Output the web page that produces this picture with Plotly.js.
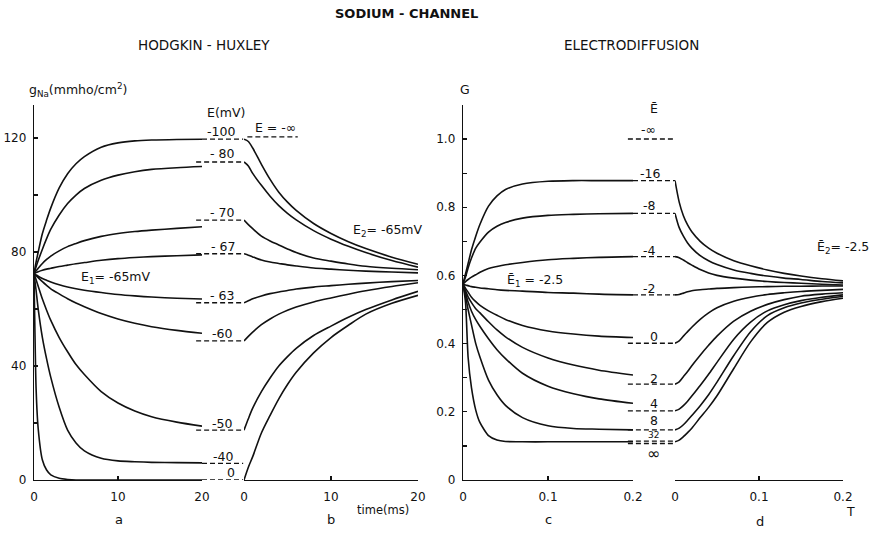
<!DOCTYPE html>
<html>
<head>
<meta charset="utf-8">
<script src="https://cdn.plot.ly/plotly-3.0.1.min.js"></script>
<style>html,body{margin:0;padding:0;background:#fff}#chart{width:874px;height:537px}</style>
</head>
<body>
<div id="chart"></div>
<script>
// ---------------- DATA ----------------
// Panel a: Hodgkin-Huxley, conductance build-up after a step from E1 = -65 mV (time in ms)
const hhTimeA = [0,0.25,0.5,1,1.5,2,3,4,5,6,8,10,12,14,17,20];
const hhVoltages = ["-100","- 80","- 70","- 67","- 63","-60","-50","-40","0"];
const hhA_m100 = [72.5,76.5,80,86.5,91.2,95.5,102.5,107.5,111,113.5,116.8,118.3,119,119.3,119.5,119.6];
const hhA_m80  = [72.5,74.8,77,81,84.7,88,93,97,100,102.3,105.2,107,108.2,109,109.6,110];
const hhA_m70  = [72.5,73.4,74.3,76,77.4,78.6,80.4,81.9,83,84,85.5,86.5,87.2,87.7,88.3,88.9];
const hhA_m67  = [72.5,72.8,73.1,73.6,74.0,74.3,74.9,75.4,75.9,76.3,77.1,77.7,78.1,78.4,78.7,79];
const hhA_m63  = [72.5,72.0,71.5,70.7,70.1,69.5,68.5,67.7,67.1,66.6,65.8,65.1,64.6,64.2,63.8,63.5];
const hhA_m60  = [72.5,71.7,71,69.6,68.3,67.1,65.3,63.6,62.1,60.8,58.4,56.5,55,53.8,52.5,51.5];
const hhA_m50  = [72.5,70.3,68,63.5,59.6,56,50,45,40.5,37,31,27,24.2,22.2,20.3,18.9];
const hhA_m40  = [72.5,66.5,60,50,42.5,36,25.5,17.5,13,10.2,7.6,6.7,6.4,6.2,6.1,6.0];
const hhA_0    = [72.5,32,18,7,3.5,1.8,0.6,0.2,0,0,0,0,0,0,0,0];
// Steady-state levels (dashed) for each E, and E = -infinity
const hhSteady = [119.6,111.6,91.2,79.4,62.2,48.8,17.5,5.8,0];
const hhSteadyInf = 120.4;

// Panel b: relaxation back to E2 = -65 mV
const hhTimeB = [0,0.5,1,2,3,4,5,6,8,10,12,14,17,20];
const hhB_m100 = [119.6,118.8,116.5,110.8,105.5,101,97.5,94.6,90,86.5,83.6,81.2,78.2,75.7];
const hhB_m80  = [111.6,110.2,107.6,103.4,99.6,96.3,93.6,91.3,87.5,84.5,82,79.8,77,74.7];
const hhB_m70  = [91.2,89.6,88.2,85.6,83.9,82.5,81.1,79.8,77.9,76.8,75.8,75,74.3,73.8];
const hhB_m67  = [79.4,78.9,78.3,77.2,76.5,76,75.5,75.1,74.4,74,73.6,73.3,73,72.7];
const hhB_m63  = [62.2,62.9,63.6,64.6,65.4,66,66.5,67,67.7,68.2,68.7,69.1,69.6,70];
const hhB_m60  = [48.8,50.4,51.9,54.5,56.5,58.2,59.6,60.7,62.5,63.9,65.2,66.4,67.9,69.2];
const hhB_m50  = [17.5,21.5,25.2,31,35.8,40,43.3,46.2,50.7,54,57.1,59.8,63.2,66.2];
const hhB_0    = [0,4.5,8.2,16.5,22.7,28.5,33.5,37.8,44.6,50,54.3,58.2,62,64.8];

// Panel c: electrodiffusion, build-up from E1 = -2.5 (reduced time T)
const edTimeC = [0,0.003,0.006,0.01,0.015,0.02,0.03,0.04,0.05,0.07,0.1,0.13,0.16,0.2];
const edVoltages = ["-16","-8","-4","-2","0","2","4","8","32"];
const edC_m16 = [0.575,0.605,0.635,0.675,0.715,0.75,0.803,0.833,0.852,0.868,0.876,0.878,0.878,0.878];
const edC_m8  = [0.575,0.595,0.622,0.651,0.68,0.698,0.727,0.744,0.755,0.768,0.776,0.779,0.781,0.782];
const edC_m4  = [0.575,0.582,0.588,0.595,0.602,0.609,0.62,0.626,0.631,0.638,0.646,0.65,0.653,0.655];
const edC_m2  = [0.575,0.572,0.57,0.567,0.565,0.563,0.561,0.558,0.556,0.554,0.55,0.548,0.545,0.543];
const edC_0   = [0.575,0.562,0.551,0.536,0.523,0.512,0.496,0.483,0.471,0.453,0.437,0.428,0.422,0.418];
const edC_2   = [0.575,0.555,0.537,0.52,0.502,0.49,0.464,0.44,0.42,0.389,0.358,0.337,0.322,0.308];
const edC_4   = [0.575,0.548,0.522,0.495,0.47,0.45,0.414,0.382,0.356,0.313,0.275,0.253,0.238,0.225];
const edC_8   = [0.575,0.538,0.5,0.455,0.4,0.36,0.293,0.25,0.219,0.183,0.159,0.151,0.149,0.147];
const edC_32  = [0.575,0.52,0.36,0.27,0.205,0.168,0.13,0.117,0.113,0.112,0.112,0.112,0.112,0.112];
// Steady-state levels (dashed)
const edSteadyLabels = ["-∞","-16","-8","-4","-2","0","2","4","8","32","∞"];
const edSteady = [1.0,0.878,0.782,0.655,0.543,0.401,0.281,0.203,0.147,0.114,0.107];

// Panel d: relaxation back to E2 = -2.5
const edTimeD = [0,0.005,0.01,0.015,0.02,0.03,0.04,0.05,0.07,0.09,0.11,0.13,0.15,0.175,0.2];
const edD_m16 = [0.878,0.815,0.775,0.748,0.728,0.7,0.68,0.665,0.643,0.628,0.616,0.606,0.598,0.59,0.584];
const edD_m8  = [0.782,0.74,0.715,0.695,0.68,0.658,0.643,0.632,0.616,0.606,0.598,0.592,0.588,0.582,0.578];
const edD_m4  = [0.655,0.652,0.645,0.637,0.63,0.617,0.607,0.6,0.592,0.586,0.582,0.579,0.577,0.574,0.572];
const edD_m2  = [0.543,0.544,0.548,0.552,0.555,0.558,0.56,0.562,0.564,0.566,0.567,0.568,0.568,0.569,0.569];
const edD_0   = [0.401,0.408,0.422,0.435,0.448,0.471,0.49,0.505,0.524,0.536,0.544,0.549,0.553,0.556,0.559];
const edD_2   = [0.281,0.288,0.303,0.318,0.335,0.366,0.395,0.422,0.466,0.495,0.515,0.529,0.539,0.545,0.549];
const edD_4   = [0.203,0.208,0.218,0.231,0.246,0.277,0.31,0.345,0.413,0.463,0.496,0.514,0.526,0.536,0.543];
const edD_8   = [0.147,0.152,0.162,0.175,0.189,0.218,0.25,0.287,0.365,0.435,0.482,0.505,0.519,0.53,0.538];
const edD_32  = [0.112,0.117,0.127,0.139,0.152,0.183,0.213,0.247,0.327,0.405,0.462,0.492,0.509,0.523,0.533];

// Tick labels
const hhTimeTicks = [0,10,20];
const hhGTicks = [0,20,40,60,80,100,120];
const hhGTickText = ["0"," ","40"," ","80"," ","120"];
const edTimeTicks = [0,0.1,0.2];
const edTimeTickText = ["0","0.1","0.2"];
const edGTicks = [0,0.1,0.2,0.3,0.4,0.5,0.6,0.7,0.8,0.9,1.0];
const edGTickText = ["0"," ","0.2"," ","0.4"," ","0.6"," ","0.8"," ","1.0"];

// ---------------- LAYOUT HELPERS ----------------
const W = 874, H = 537;
const PX = x => x / W;
const PY = y => 1 - y / H;
const FONT = "DejaVu Sans";
const INK = "#111";

const hhA = [hhA_m100,hhA_m80,hhA_m70,hhA_m67,hhA_m63,hhA_m60,hhA_m50,hhA_m40,hhA_0];
const hhB = [hhB_m100,hhB_m80,hhB_m70,hhB_m67,hhB_m63,hhB_m60,hhB_m50,hhB_0];
const edC = [edC_m16,edC_m8,edC_m4,edC_m2,edC_0,edC_2,edC_4,edC_8,edC_32];
const edD = [edD_m16,edD_m8,edD_m4,edD_m2,edD_0,edD_2,edD_4,edD_8,edD_32];

const traces = [];
function curve(xa, ya, x, y, smooth) {
  traces.push({type:'scatter', mode:'lines', x:x, y:y, xaxis:xa, yaxis:ya,
    line:{color:INK, width:1.6, shape:'spline', smoothing: smooth===undefined?0.8:smooth},
    hoverinfo:'skip', showlegend:false});
}
function dashed(xa, ya, x0, x1, level) {
  traces.push({type:'scatter', mode:'lines', x:[x0,x1], y:[level,level], xaxis:xa, yaxis:ya,
    line:{color:INK, width:1.3, dash:'5px,3px'}, hoverinfo:'skip', showlegend:false});
}

hhA.forEach((g,i) => curve('x','y',hhTimeA,g, i===8 ? 0.6 : 0.8));
hhB.forEach(g => curve('x2','y',hhTimeB,g));
edC.forEach((g,i) => curve('x3','y2',edTimeC,g, i===8 ? 0.6 : 0.8));
edD.forEach(g => curve('x4','y2',edTimeD,g));

// dashed steady-state markers across the gap (x5 spans a+b in panel-a units, x6 spans c+d in panel-c units)
const gapA = [19.3, 24.9];
hhSteady.forEach((lv,i) => dashed('x5','y', i===0||i>=7 ? 20 : gapA[0], gapA[1], lv));
dashed('x5','y', 25.4, 31.4, hhSteadyInf);
edSteady.forEach((lv,i) => dashed('x6','y2', (i>=1&&i<=4) ? 0.2 : 0.194, 0.2494, lv));

const axBase = {showgrid:false, zeroline:false, showline:true, linecolor:INK, linewidth:1.3,
  ticks:'inside', ticklen:4, tickwidth:1.2, tickcolor:INK,
  tickfont:{family:FONT, size:12, color:INK}, fixedrange:true};
const yDom = [1-480/H, 1-105/H];

const layout = {
  width:W, height:H, margin:{l:0,r:0,t:0,b:0},
  paper_bgcolor:'#fff', plot_bgcolor:'rgba(0,0,0,0)', showlegend:false,
  font:{family:FONT, color:INK},
  xaxis: Object.assign({}, axBase, {domain:[PX(34),PX(202)], range:[0,20], anchor:'y', tickvals:hhTimeTicks, ticklabelstandoff:5}),
  xaxis2:Object.assign({}, axBase, {domain:[PX(244),PX(418)], range:[0,20], anchor:'y', tickvals:hhTimeTicks, ticklabelstandoff:5}),
  xaxis3:Object.assign({}, axBase, {domain:[PX(463),PX(633)], range:[0,0.2], anchor:'y2', tickvals:edTimeTicks, ticktext:edTimeTickText, ticklabelstandoff:5}),
  xaxis4:Object.assign({}, axBase, {domain:[PX(675),PX(843)], range:[0,0.2], anchor:'y2', tickvals:edTimeTicks, ticktext:edTimeTickText, ticklabelstandoff:5}),
  xaxis5:{domain:[PX(34),PX(418)], range:[0,(418-34)/8.4], anchor:'y', visible:false, fixedrange:true},
  xaxis6:{domain:[PX(463),PX(843)], range:[0,(843-463)/850], anchor:'y2', visible:false, fixedrange:true},
  yaxis: Object.assign({}, axBase, {domain:yDom, range:[0,131.6], anchor:'x', tickvals:hhGTicks, ticktext:hhGTickText, ticklabelstandoff:4}),
  yaxis2:Object.assign({}, axBase, {domain:yDom, range:[0,1.0997], anchor:'x3', tickvals:edGTicks, ticktext:edGTickText, ticklabelstandoff:4}),
  annotations: []
};

function note(text, x, y, size, opts) {
  layout.annotations.push(Object.assign({text:text, x:PX(x), y:PY(y), xref:'paper', yref:'paper',
    showarrow:false, xanchor:'center', yanchor:'middle', borderpad:0, font:{family:FONT, size:size||12, color:INK}}, opts||{}));
}
// titles
note("SODIUM - CHANNEL", 406, 14, 13, {font:{family:FONT, size:13, color:INK, weight:'bold'}});
note("HODGKIN - HUXLEY", 204, 45, 13.5);
note("ELECTRODIFFUSION", 631, 45, 13.5);
// axis titles
note("g<sub>Na</sub>(mmho/cm<sup>2</sup>)", 28, 90, 12.5, {xanchor:'left'});
note("G", 465, 90, 12.5);
note("time(ms)", 383, 510, 11.5);
note("T", 850, 511, 12.5);
note("a", 119, 519, 13); note("b", 331, 519, 13); note("c", 548, 519, 13); note("d", 760, 521, 13);
// HH labels
note("E(mV)", 226, 112, 12.5);
const hhLabelPos = [[221,131],[222,153],[222,212],[223,246],[222,295],[222,333],[222,423],[223,456],[231,472]];
hhVoltages.forEach((t,i) => note(t, hhLabelPos[i][0], hhLabelPos[i][1], 12.5));
note("E = -∞", 275, 128, 12.5);
note("E<sub>1</sub>= -65mV", 116, 277, 12.5);
note("E<sub>2</sub>= -65mV", 388, 230, 12.5);
// ED labels
note("Ē", 654, 108, 12.5);
const edLabelPos = [[648,130],[650,173],[649,206],[649,250],[649,288],[654,336],[654,378],[654,403],[654,420],[653,435],[653,453]];
edSteadyLabels.forEach((t,i) => note(t, edLabelPos[i][0], edLabelPos[i][1], i===9 ? 9 : (i===10 ? 16 : 12.5)));
note("Ē<sub>1</sub> = -2.5", 535, 280, 12.5);
note("Ē<sub>2</sub>= -2.5", 843, 247, 12.5);

Plotly.newPlot('chart', traces, layout, {staticPlot:true, displayModeBar:false});
</script>
</body>
</html>
